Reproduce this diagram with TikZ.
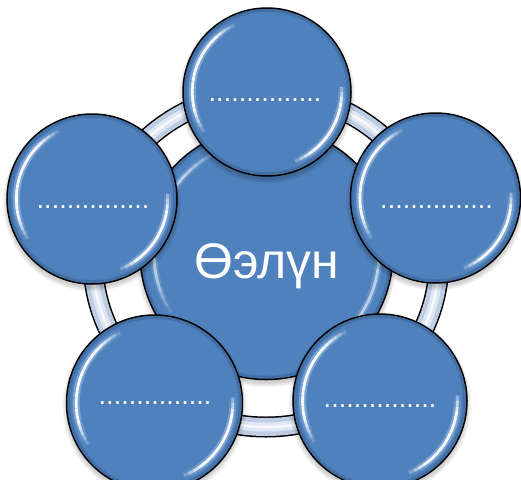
\documentclass[tikz,border=0pt]{standalone}
\usepackage{fontspec}
\setmainfont{Liberation Sans}
\definecolor{ballblue}{RGB}{79,129,189}
\definecolor{rimshade}{RGB}{45,78,120}
\definecolor{glowblue}{RGB}{170,200,236}
\definecolor{ringfill}{RGB}{190,205,228}
\definecolor{ringlight}{RGB}{222,231,243}
\tikzset{
  ball/.style={circle, draw=black, line width=1.5pt, fill=ballblue, inner sep=0pt},
  dotlabel/.style={text=white, font=\fontsize{27}{30}\selectfont, anchor=base, inner sep=0pt},
  centerlabel/.style={text=white, font=\fontsize{50}{60}\selectfont, anchor=base, inner sep=0pt},
}
% #1 name, #2 cx, #3 cy, #4 radius, #5 highlight strength (y axis points down; arcs use canvas units so angles are screen angles)
\newcommand\glossball[5]{%
  \foreach \k in {0,...,4}{\fill[black, opacity=0.04] (#2,#3+3.5) circle[radius=#4 pt+\k pt];}
  \node[ball, minimum size={2*#4 pt}] (#1) at (#2,#3) {};
  \draw[rimshade, line width=3pt, opacity=0.35] (#2,#3) circle[radius=#4 pt-2.3pt];
  \pgfmathsetmacro\hr{0.89*#4}
  \foreach \ang [evaluate=\ang as \oa using {#5*0.5*min(1,1.4*sin((\ang-112)*1.8))},
                 evaluate=\ang as \ob using {#5*min(1,1.6*sin((\ang-112)*1.8))}] in {112,116,...,208}{
    \draw[glowblue, line width=7pt, opacity=\oa] (#2,#3) ++(\ang:\hr pt) arc[start angle=\ang, end angle=\ang+4, radius=\hr pt];
    \draw[white, line width=2.8pt, opacity=\ob] (#2,#3) ++(\ang:\hr pt) arc[start angle=\ang, end angle=\ang+4, radius=\hr pt];
  }
  \foreach \ang [evaluate=\ang as \oa using {#5*0.5*min(1,1.4*sin((\ang+72)*2.3077))},
                 evaluate=\ang as \ob using {#5*min(1,1.6*sin((\ang+72)*2.3077))}] in {-72,-68,...,2}{
    \draw[glowblue, line width=7pt, opacity=\oa] (#2,#3) ++(\ang:\hr pt) arc[start angle=\ang, end angle=\ang+4, radius=\hr pt];
    \draw[white, line width=2.8pt, opacity=\ob] (#2,#3) ++(\ang:\hr pt) arc[start angle=\ang, end angle=\ang+4, radius=\hr pt];
  }
}
\begin{document}
\begin{tikzpicture}[x=1pt, y=-1pt]
  \clip (0,0) rectangle (521,479);
  % ring
  \draw[black, line width=21pt] (266,260) ellipse[x radius=173pt, y radius=167pt];
  \draw[ringfill, line width=18pt] (266,260) ellipse[x radius=173pt, y radius=167pt];
  \draw[ringlight, line width=9pt] (266,260) ellipse[x radius=173pt, y radius=167pt];
  \draw[white, line width=2.5pt, opacity=0.75] (266,260) ellipse[x radius=173pt, y radius=167pt];
  % central ball
  \glossball{cball}{266.5}{253}{126.5}{0.55}
  % outer balls
  \glossball{top}{267}{92}{84}{0.95}
  \glossball{left}{92}{199}{85}{0.95}
  \glossball{right}{435.5}{198}{85}{0.95}
  \glossball{bl}{154.5}{403}{88}{0.95}
  \glossball{br}{380}{401}{87}{0.95}
  % labels
  \node[centerlabel] (lc) at (267,278) {Өэлүн};
  \node[dotlabel] (lt) at (265,101.5) {...............};
  \node[dotlabel] (ll) at (93,208.5) {...............};
  \node[dotlabel] (lr) at (436.5,208.5) {...............};
  \node[dotlabel] (lbl) at (155,404.5) {...............};
  \node[dotlabel] (lbr) at (380,407) {...............};
\end{tikzpicture}
\end{document}
